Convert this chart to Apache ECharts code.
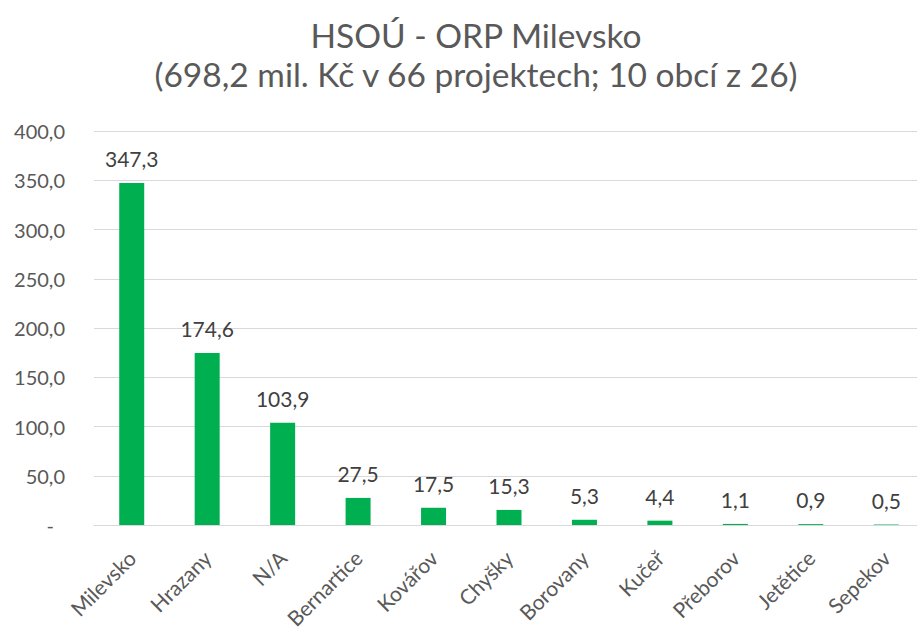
<!DOCTYPE html>
<html>
<head>
<meta charset="utf-8">
<script src="https://cdn.jsdelivr.net/npm/echarts@6/dist/echarts.min.js"></script>
<style>
  html, body { margin: 0; padding: 0; background: #fff; }
  #chart { width: 917px; height: 630px; }
</style>
</head>
<body>
<div id="chart"></div>
<script>
const categories = ['Milevsko', 'Hrazany', 'N/A', 'Bernartice', 'Kovářov', 'Chyšky', 'Borovany', 'Kučeř', 'Přeborov', 'Jetětice', 'Sepekov'];
const values = [347.3, 174.6, 103.9, 27.5, 17.5, 15.3, 5.3, 4.4, 1.1, 0.9, 0.5];
const titleLines = ['HSOÚ - ORP Milevsko', '(698,2 mil. Kč v 66 projektech; 10 obcí z 26)'];

const fontFam = 'Lato, "Open Sans", sans-serif';
const fmt = v => v.toFixed(1).replace('.', ',');

const chart = echarts.init(document.getElementById('chart'), null, { renderer: 'svg' });
chart.setOption({
  backgroundColor: '#fff',
  animation: false,
  title: {
    text: titleLines.join('\n'),
    left: 471,
    textAlign: 'center',
    top: 10,
    textStyle: { color: '#595959', fontSize: 33.5, fontWeight: 'normal', fontFamily: fontFam, lineHeight: 39 }
  },
  grid: { left: 94, right: -7, top: 131, bottom: 105, containLabel: false, outerBoundsMode: 'none' },
  xAxis: {
    type: 'category',
    data: categories,
    axisTick: { show: false },
    axisLine: { lineStyle: { color: '#d9d9d9', width: 1 } },
    axisLabel: { color: '#595959', fontSize: 21, fontFamily: fontFam, rotate: 45, interval: 0, margin: 29 }
  },
  yAxis: {
    type: 'value',
    min: 0, max: 400, interval: 50,
    axisLine: { show: false },
    axisTick: { show: false },
    splitLine: { lineStyle: { color: '#d9d9d9', width: 1 } },
    axisLabel: {
      color: '#595959', fontSize: 20, fontFamily: fontFam, margin: 29, align: 'right',
      formatter: v => v === 0 ? '{z|-}' : fmt(v),
      rich: { z: { color: '#595959', fontSize: 20, fontFamily: fontFam, padding: [0, 11, 0, 0] } }
    }
  },
  series: [{
    type: 'bar',
    data: values,
    barWidth: 25,
    itemStyle: { color: '#00b050' },
    label: {
      show: true, position: 'top', distance: 14,
      color: '#404040', fontSize: 21, fontFamily: fontFam,
      formatter: p => fmt(p.value)
    }
  }]
});
</script>
</body>
</html>
